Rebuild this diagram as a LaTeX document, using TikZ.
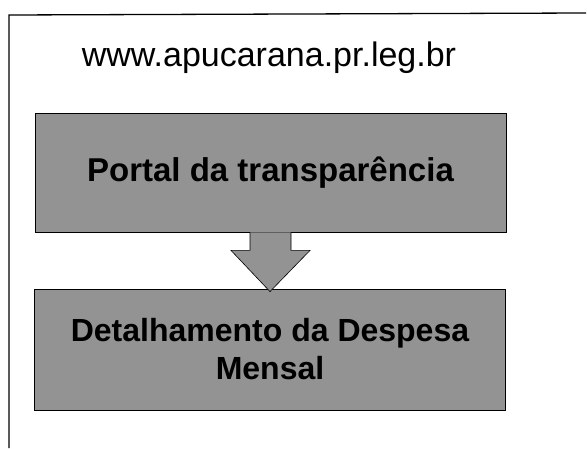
\documentclass[tikz,border=0pt]{standalone}
\usepackage{fontspec}
\setmainfont{Liberation Sans}
\usetikzlibrary{positioning}

\tikzset{
  frameline/.style={line width=1.3pt, black},
  slab/.style={draw=black, line width=0.8pt, fill=gray!85, minimum width=471pt, align=center, font=\fontsize{32}{38}\selectfont\bfseries},
  downarrow/.style={draw=black, line width=0.6pt, fill=gray!85}
}

\begin{document}
\begin{tikzpicture}[x=1pt,y=1pt]
\useasboundingbox (0,0) rectangle (587,448);
% page frame
\draw [frameline] (586,435) -- (9,433) -- (9,0);
\node [font=\fontsize{34}{38}\selectfont] (site) at (269,390) {www.apucarana.pr.leg.br};
\node [slab, minimum height=119pt, font=\fontsize{33}{38}\selectfont\bfseries] (portal) at (270.5,275.5) {Portal da transparência};
\node [slab, minimum height=121pt] (detal) at (270,98.5) {Detalhamento da Despesa\\Mensal};
% block arrow between the two slabs
\coordinate (stemL) at ([xshift=-20.5pt]portal.south);
\coordinate (stemR) at ([xshift=20.5pt]portal.south);
\coordinate (tip) at ([yshift=-3pt]detal.north);
\draw [downarrow] (stemL) -- ++(0,-18) -- ++(-19,0) -- (tip) -- ([xshift=19pt,yshift=-18pt]stemR) -- ++(-19,0) -- (stemR);
\end{tikzpicture}
\end{document}
